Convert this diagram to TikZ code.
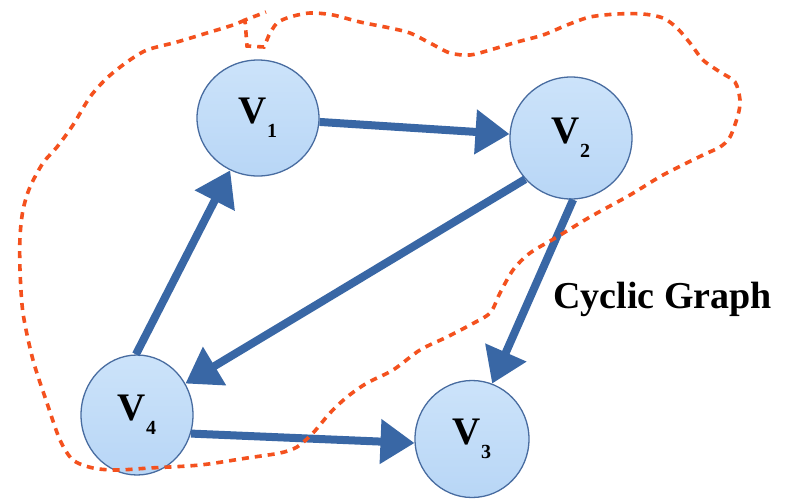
\documentclass[tikz,border=0pt]{standalone}
\usepackage{fontspec}
\setmainfont{Liberation Serif}
\usetikzlibrary{shapes.geometric,arrows.meta}
\definecolor{nodetop}{RGB}{204,227,250}
\definecolor{nodebot}{RGB}{184,214,246}
\definecolor{nodeline}{RGB}{72,108,160}
\definecolor{arrowblue}{RGB}{57,103,165}
\definecolor{dashred}{RGB}{244,81,30}
\newcommand\vlab[1]{\fontsize{39}{39}\selectfont\bfseries V\raisebox{-14pt}{\fontsize{20}{20}\selectfont #1}}
\begin{document}
\begin{tikzpicture}[x=1pt,y=-1pt,
  vertex/.style={ellipse, draw=nodeline, line width=1.3pt, top color=nodetop, bottom color=nodebot, inner sep=0pt},
  edge/.style={draw=arrowblue, line width=8pt, -{Triangle[length=34pt,width=43pt]}},
  outline/.style={draw=dashred, line width=3.6pt, dash pattern=on 7pt off 6pt}]
\useasboundingbox[fill=white] (0,0) rectangle (785,499);
\node[vertex, minimum width=122pt, minimum height=116pt] (v1) at (258,118) {\vlab{1}};
\node[vertex, minimum width=122pt, minimum height=122pt] (v2) at (571,138) {\vlab{2}};
\node[vertex, minimum width=114pt, minimum height=117pt] (v3) at (472,439) {\vlab{3}};
\node[vertex, minimum width=112pt, minimum height=120pt] (v4) at (137,415) {\vlab{4}};
\node[anchor=base west, inner sep=0pt, font=\fontsize{38}{38}\selectfont\bfseries] (lbl) at (553,308) {Cyclic Graph};
\draw[edge] (v1) -- (v2);
\draw[edge] (v2.222) -- (v4.33);
\draw[edge] (v4.91) -- (v1.242);
\draw[edge] (v2.272) -- (v3.70);
\draw[edge] (v4.341) -- (v3.184);
\draw[outline] plot[smooth, tension=0.5] coordinates {
 (245,20) (233,25) (207,33) (177,42) (147,50) (127,62) (107,78) (90,97) (73,125)
 (57,147) (43,163) (30,187) (23,210) (20,237) (20,270) (23,313) (33,360) (47,403) (60,440)
 (73,460) (93,468) (117,470) (150,468) (200,465) (247,458) (280,453) (297,447) (313,433)
 (330,413) (347,397) (367,383) (393,370) (420,350) (447,337) (470,325) (490,313) (500,293)
 (513,270) (530,253) (557,237) (590,217) (630,195) (663,175) (703,155) (720,147) (730,137)
 (738,115) (740,100) (735,82) (720,72) (703,60) (690,43) (677,28) (663,18) (643,14) (617,14)
 (590,17) (567,25) (543,35) (517,42) (490,50) (470,55) (450,53) (430,43) (410,33) (390,28)
 (360,22) (333,15) (310,13) (290,17) (277,23) (269,35)}
 -- (264,47) -- (247,46) -- (245,20) -- (266,12);
\end{tikzpicture}
\end{document}
